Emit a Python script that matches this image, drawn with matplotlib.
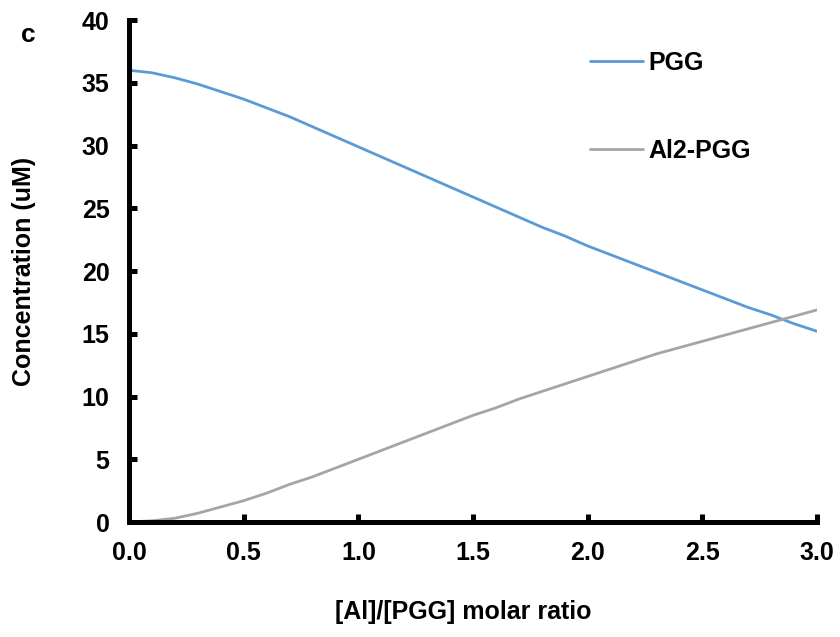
import matplotlib
matplotlib.use("Agg")
import matplotlib.pyplot as plt

plt.rcParams['font.family'] = ['Liberation Sans', 'DejaVu Sans']
plt.rcParams['font.weight'] = 'bold'

ratio = [0.0, 0.1, 0.2, 0.3, 0.4, 0.5, 0.6, 0.7, 0.8, 0.9, 1.0,
         1.1, 1.2, 1.3, 1.4, 1.5, 1.6, 1.7, 1.8, 1.9, 2.0,
         2.1, 2.2, 2.3, 2.4, 2.5, 2.6, 2.7, 2.8, 2.9, 3.0]
pgg = [36.0, 35.8, 35.4, 34.9, 34.3, 33.7, 33.0, 32.3, 31.5, 30.7, 29.9,
       29.1, 28.3, 27.5, 26.7, 25.9, 25.1, 24.3, 23.5, 22.8, 22.0,
       21.3, 20.6, 19.9, 19.2, 18.5, 17.8, 17.1, 16.5, 15.8, 15.2]
al2_pgg = [0.0, 0.1, 0.3, 0.7, 1.2, 1.7, 2.3, 3.0, 3.6, 4.3, 5.0,
           5.7, 6.4, 7.1, 7.8, 8.5, 9.1, 9.8, 10.4, 11.0, 11.6,
           12.2, 12.8, 13.4, 13.9, 14.4, 14.9, 15.4, 15.9, 16.4, 16.9]

xticks = [0.0, 0.5, 1.0, 1.5, 2.0, 2.5, 3.0]
yticks = [0, 5, 10, 15, 20, 25, 30, 35, 40]

fig = plt.figure(figsize=(8.4, 6.37), dpi=100)
ax = fig.add_axes([0.1536, 0.1805, 0.819, 0.788])

ax.plot(ratio, pgg, color="#5B9BD5", lw=2.0, label="PGG", solid_capstyle="round")
ax.plot(ratio, al2_pgg, color="#A5A5A5", lw=2.0, label="Al2-PGG", solid_capstyle="round")

ax.set_xlim(0, 3.0)
ax.set_ylim(0, 40)
ax.set_xticks(xticks)
ax.set_xticklabels([f"{t:.1f}" for t in xticks])
ax.set_yticks(yticks)

for side in ["top", "right"]:
    ax.spines[side].set_visible(False)
for side in ["left", "bottom"]:
    ax.spines[side].set_linewidth(3.6)
    ax.spines[side].set_capstyle("projecting")

ax.tick_params(direction="in", length=6, width=3.6, labelsize=18, pad=14)
for lab in ax.get_xticklabels() + ax.get_yticklabels():
    lab.set_fontweight("bold")

ax.set_xlabel("[Al]/[PGG] molar ratio", fontsize=18, fontweight="bold")
ax.xaxis.set_label_coords(0.486, -0.155)
ax.set_ylabel("Concentration (uM)", fontsize=18, fontweight="bold", labelpad=33)

fig.text(28 / 840, 1 - 35 / 637, "c", fontsize=19, fontweight="bold", ha="center", va="center")

ax.legend(loc="upper left", bbox_to_anchor=(590 / 840, 1 - 51 / 637),
          bbox_transform=fig.transFigure, frameon=False,
          handlelength=2.1, handletextpad=0.25, labelspacing=2.55,
          borderpad=0, borderaxespad=0, prop={"weight": "bold", "size": 18})

fig.savefig("out.png", dpi=100)
